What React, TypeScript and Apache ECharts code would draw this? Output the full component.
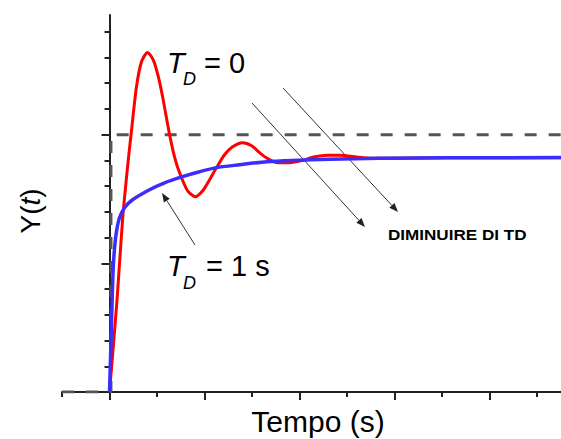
import React, { useEffect, useRef } from "react";
import * as echarts from "echarts";

// Setpoint (step) — time [s], value
const stepT = [-0.5, 0.015, 0.015, 4.75];
const stepY = [0, 0, 1, 1];

// Response with T_D = 0 (red)
const redT = [0, 0.079, 0.137, 0.189, 0.232, 0.284, 0.337, 0.4, 0.463, 0.516, 0.558, 0.632, 0.684, 0.737, 0.821, 0.905, 0.989, 1.053, 1.126, 1.21, 1.295, 1.4, 1.495, 1.579, 1.663, 1.768, 1.895, 2.021, 2.158, 2.295, 2.421, 2.579, 2.758, 3.05, 3.58, 4.75];
const redY = [0, 0.358, 0.669, 0.872, 1.019, 1.187, 1.284, 1.319, 1.288, 1.222, 1.148, 1.0, 0.914, 0.852, 0.782, 0.759, 0.786, 0.825, 0.872, 0.922, 0.953, 0.969, 0.957, 0.93, 0.907, 0.891, 0.891, 0.899, 0.914, 0.92, 0.92, 0.914, 0.908, 0.908, 0.91, 0.91];

// Response with T_D = 1 s (blue)
const blueT = [0, 0.022, 0.038, 0.056, 0.076, 0.105, 0.158, 0.242, 0.421, 0.579, 0.768, 0.947, 1.126, 1.368, 1.653, 1.926, 2.316, 2.842, 3.579, 4.75];
const blueY = [0, 0.28, 0.475, 0.572, 0.63, 0.677, 0.716, 0.747, 0.786, 0.813, 0.837, 0.856, 0.872, 0.883, 0.895, 0.9, 0.904, 0.908, 0.91, 0.911];

// Tick positions (no labels shown)
const xMinorTicks = [-0.5, 0.5, 1.5, 2.5, 3.5, 4.5];
const xMajorTicks = [0, 1, 2, 3, 4];
const yMinorTicks = [0.1, 0.2, 0.3, 0.4, 0.6, 0.7, 0.8, 0.9, 1.1, 1.2, 1.3, 1.4];
const yMajorTicks = [0, 0.5, 1];

const FONT = "Arial, 'Liberation Sans', sans-serif";

function zip(a: number[], b: number[]) {
  return a.map((v, i) => [v, b[i]]);
}

function arrow(x1: number, y1: number, x2: number, y2: number) {
  const ang = Math.atan2(y2 - y1, x2 - x1);
  const len = 9;
  const hw = 3.5;
  const bx = x2 - len * Math.cos(ang);
  const by = y2 - len * Math.sin(ang);
  const px = -Math.sin(ang) * hw;
  const py = Math.cos(ang) * hw;
  return [
    {
      type: "line",
      shape: { x1, y1, x2: bx, y2: by },
      style: { stroke: "#333", lineWidth: 1 },
    },
    {
      type: "polygon",
      shape: { points: [[x2, y2], [bx + px, by + py], [bx - px, by - py]] },
      style: { fill: "#222" },
    },
  ];
}

export default function App() {
  const ref = useRef<HTMLDivElement>(null);
  useEffect(() => {
    if (!ref.current) return;
    const chart = echarts.init(ref.current, undefined, { renderer: "svg" });
    const axisCommon = {
      type: "value",
      splitLine: { show: false },
      axisLabel: { show: false },
    };
    chart.setOption({
      animation: false,
      backgroundColor: "#ffffff",
      grid: { left: 62, right: 0, top: 15, bottom: 47 },
      xAxis: [
        {
          ...axisCommon,
          min: -0.5,
          max: 4.75,
          axisLine: { show: true, lineStyle: { color: "#222", width: 2 } },
          axisTick: { show: true, length: 5, customValues: xMinorTicks, lineStyle: { color: "#222", width: 2 } },
        },
        {
          ...axisCommon,
          min: -0.5,
          max: 4.75,
          position: "bottom",
          axisLine: { show: false },
          axisTick: { show: true, length: 8, customValues: xMajorTicks, lineStyle: { color: "#222", width: 2 } },
        },
      ],
      yAxis: [
        {
          ...axisCommon,
          min: 0,
          max: 1.465,
          axisLine: { show: true, lineStyle: { color: "#222", width: 2 } },
          axisTick: { show: true, length: 5, customValues: yMinorTicks, lineStyle: { color: "#222", width: 2 } },
        },
        {
          ...axisCommon,
          min: 0,
          max: 1.465,
          position: "left",
          axisLine: { show: false },
          axisTick: { show: true, length: 8, customValues: yMajorTicks, lineStyle: { color: "#222", width: 2 } },
        },
      ],
      series: [
        {
          type: "line",
          data: zip(stepT, stepY),
          showSymbol: false,
          lineStyle: { color: "#555", width: 3, type: [12, 12] },
          z: 2,
        },
        {
          type: "line",
          data: zip(redT, redY),
          showSymbol: false,
          smooth: 0.25,
          lineStyle: { color: "#ff0000", width: 3 },
          z: 3,
        },
        {
          type: "line",
          data: zip(blueT, blueY),
          showSymbol: false,
          smooth: 0.25,
          lineStyle: { color: "#3c2dfa", width: 3.5 },
          z: 4,
        },
      ],
      graphic: [
        {
          type: "text",
          x: 30,
          y: 211,
          rotation: Math.PI / 2,
          style: {
            text: "{n|Y(}{i|t}{n|)}",
            textAlign: "center",
            textVerticalAlign: "middle",
            rich: {
              n: { fontSize: 28, fontFamily: FONT, fill: "#000" },
              i: { fontSize: 28, fontFamily: FONT, fontStyle: "italic", fill: "#000" },
            },
          },
        },
        {
          type: "text",
          x: 318,
          y: 421,
          style: { text: "Tempo (s)", fontSize: 30, fontFamily: FONT, fill: "#000", textAlign: "center", textVerticalAlign: "middle" },
        },
        { type: "text", x: 167, y: 62.5, style: { text: "T", fontSize: 29, fontStyle: "italic", fontFamily: FONT, fill: "#000", textVerticalAlign: "middle" } },
        { type: "text", x: 183, y: 79, style: { text: "D", fontSize: 18, fontStyle: "italic", fontFamily: FONT, fill: "#000", textVerticalAlign: "middle" } },
        { type: "text", x: 204, y: 62.5, style: { text: "= 0", fontSize: 29, fontFamily: FONT, fill: "#000", textVerticalAlign: "middle" } },
        { type: "text", x: 167, y: 266, style: { text: "T", fontSize: 29, fontStyle: "italic", fontFamily: FONT, fill: "#000", textVerticalAlign: "middle" } },
        { type: "text", x: 183, y: 283, style: { text: "D", fontSize: 18, fontStyle: "italic", fontFamily: FONT, fill: "#000", textVerticalAlign: "middle" } },
        { type: "text", x: 206, y: 266, style: { text: "= 1 s", fontSize: 29, fontFamily: FONT, fill: "#000", textVerticalAlign: "middle" } },
        {
          type: "text",
          x: 388,
          y: 235,
          scaleX: 1.22,
          style: { text: "DIMINUIRE DI TD", fontSize: 14, fontWeight: "bold", fontFamily: FONT, fill: "#000", textVerticalAlign: "middle" },
        },
        ...arrow(252, 103, 365, 227),
        ...arrow(283, 88, 398, 212),
        ...arrow(195, 245, 162, 193),
      ],
    });
    return () => chart.dispose();
  }, []);
  return <div ref={ref} style={{ position: "fixed", left: 0, top: 0, width: 561, height: 439, background: "#fff" }} />;
}
